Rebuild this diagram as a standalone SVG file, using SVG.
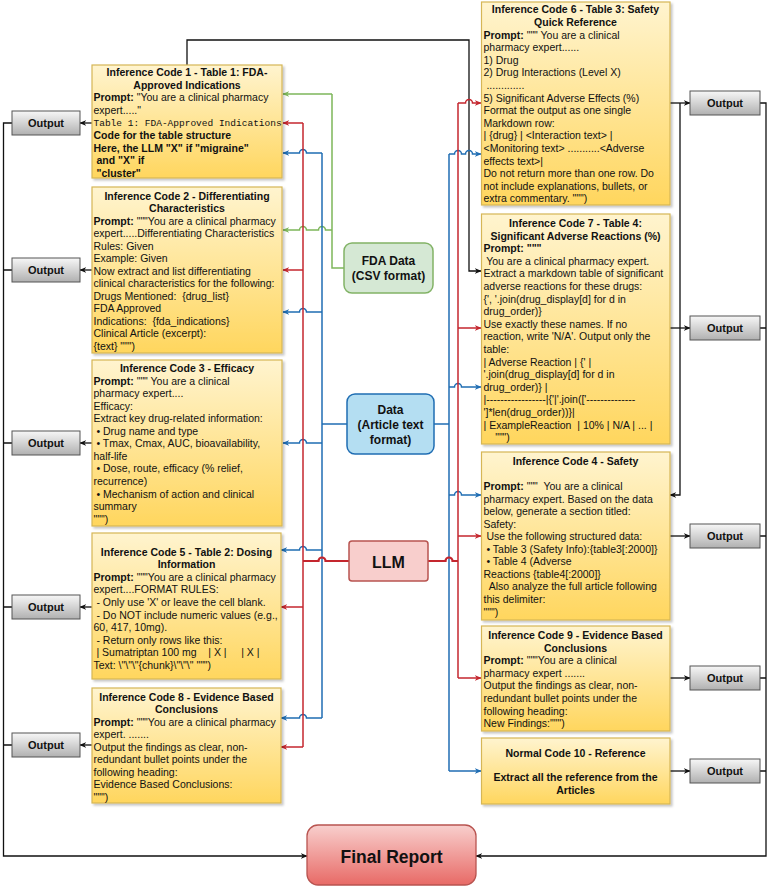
<svg xmlns="http://www.w3.org/2000/svg" width="768" height="887" viewBox="0 0 768 887">
<style>
text{font-family:"Liberation Sans",Arial,sans-serif;font-size:10.5px;fill:#111;white-space:pre}
.b{font-weight:bold}
.c{text-anchor:middle}
.mono{font-family:"Liberation Mono","Courier New",monospace;font-size:9.5px}
.ybox{fill:url(#gy);stroke:#d6b656;stroke-width:1.2}
.obox{fill:url(#gg);stroke:#555;stroke-width:1}
.otx{font-weight:bold;font-size:11px;text-anchor:middle}
.k{fill:none;stroke:#111;stroke-width:1.3}
.r{fill:none;stroke:#c4262e;stroke-width:1.5}
.u{fill:none;stroke:#1f6db3;stroke-width:1.5}
.g{fill:none;stroke:#7db65a;stroke-width:1.5}
.ka{marker-end:url(#ak)}
.ra{marker-end:url(#ar)}
.ua{marker-end:url(#au)}
.ga{marker-end:url(#ag)}
</style>
<defs>
<linearGradient id="gy" x1="0" y1="0" x2="0" y2="1"><stop offset="0" stop-color="#fff4cf"/><stop offset="1" stop-color="#ffd65e"/></linearGradient>
<linearGradient id="gg" x1="0" y1="0" x2="0" y2="1"><stop offset="0" stop-color="#f7f7f7"/><stop offset="1" stop-color="#b0b0b0"/></linearGradient>
<linearGradient id="gr" x1="0" y1="0" x2="0" y2="1"><stop offset="0" stop-color="#f8cfcd"/><stop offset="1" stop-color="#e86a66"/></linearGradient>
<filter id="sh" x="-10%" y="-10%" width="120%" height="120%"><feDropShadow dx="2" dy="2" stdDeviation="1.2" flood-color="#000" flood-opacity="0.22"/></filter>
<marker id="ak" viewBox="0 0 10 10" refX="9" refY="5" markerWidth="7" markerHeight="7" markerUnits="userSpaceOnUse" orient="auto"><path d="M0,1 L10,5 L0,9 L3,5 z" fill="#111"/></marker>
<marker id="ar" viewBox="0 0 10 10" refX="9" refY="5" markerWidth="7" markerHeight="7" markerUnits="userSpaceOnUse" orient="auto"><path d="M0,1 L10,5 L0,9 L3,5 z" fill="#c4262e"/></marker>
<marker id="au" viewBox="0 0 10 10" refX="9" refY="5" markerWidth="7" markerHeight="7" markerUnits="userSpaceOnUse" orient="auto"><path d="M0,1 L10,5 L0,9 L3,5 z" fill="#1f6db3"/></marker>
<marker id="ag" viewBox="0 0 10 10" refX="9" refY="5" markerWidth="7" markerHeight="7" markerUnits="userSpaceOnUse" orient="auto"><path d="M0,1 L10,5 L0,9 L3,5 z" fill="#7db65a"/></marker>
</defs>
<rect width="768" height="887" fill="#fff"/>

<g id="connectors">
<!-- black: code 1 to code 7 -->
<path class="k ka" d="M187,65 V40 H469 V271 H481"/>
<!-- green FDA -->
<path class="g" d="M344,268 H332 V94"/>
<path class="g ga" d="M332,94 H283"/>
<path class="g ga" d="M332,230 H325.5 A3.5,3.5 0 0 0 318.5,230 H306.5 A3.5,3.5 0 0 0 299.5,230 H283"/>
<!-- blue left -->
<path class="u" d="M347,424 H322"/>
<path class="u" d="M322,153 V718"/>
<path class="u ua" d="M322,153 H306.5 A3.5,3.5 0 0 0 299.5,153 H283"/>
<path class="u ua" d="M322,312 H306.5 A3.5,3.5 0 0 0 299.5,312 H283"/>
<path class="u ua" d="M322,443 H306.5 A3.5,3.5 0 0 0 299.5,443 H283"/>
<path class="u ua" d="M322,550 H306.5 A3.5,3.5 0 0 0 299.5,550 H281"/>
<path class="u ua" d="M322,718 H306.5 A3.5,3.5 0 0 0 299.5,718 H281"/>
<!-- red left -->
<path class="r" style="stroke-width:2.2" d="M349,561 H325.5 A3.5,3.5 0 0 0 318.5,561 H303"/>
<path class="r" d="M303,123 V747"/>
<path class="r ra" d="M303,123 H283"/>
<path class="r ra" d="M303,270 H283"/>
<path class="r ra" d="M303,607 H281"/>
<path class="r ra" d="M303,747 H281"/>
<!-- blue right -->
<path class="u" d="M434,424 H449"/>
<path class="u" d="M449,154 V771"/>
<path class="u ua" d="M449,154 H454.5 A3.5,3.5 0 0 1 461.5,154 H465.5 A3.5,3.5 0 0 1 472.5,154 H481"/>
<path class="u ua" d="M449,387 H454.5 A3.5,3.5 0 0 1 461.5,387 H481"/>
<path class="u ua" d="M449,495 H454.5 A3.5,3.5 0 0 1 461.5,495 H481"/>
<path class="u ua" d="M449,771 H481"/>
<!-- red right -->
<path class="r" style="stroke-width:2.2" d="M428,561 H445.5 A3.5,3.5 0 0 1 452.5,561 H458"/>
<path class="r" d="M458,103 V678"/>
<path class="r ra" d="M458,103 H465.5 A3.5,3.5 0 0 1 472.5,103 H481"/>
<path class="r ra" d="M458,328 H481"/>
<path class="r ra" d="M458,536 H481"/>
<path class="r ra" d="M458,678 H481"/>
<!-- outputs left -->
<path class="k ka" d="M92,123 H80"/>
<path class="k ka" d="M92,270 H80"/>
<path class="k ka" d="M92,443 H80"/>
<path class="k ka" d="M92,607 H80"/>
<path class="k ka" d="M92,745 H80"/>
<path class="k" d="M12,270 H3.5 M12,443 H3.5 M12,607 H3.5 M12,745 H3.5"/>
<path class="k ka" d="M12,123 H3.5 V856 H307"/>
<!-- outputs right -->
<path class="k ka" d="M670,103 H690"/>
<path class="k ka" d="M670,328 H690"/>
<path class="k ka" d="M670,536 H690"/>
<path class="k ka" d="M670,678 H690"/>
<path class="k ka" d="M670,771 H690"/>
<path class="k ka" d="M680,103 V495 H670"/>
<path class="k" d="M760,328 H766 M760,536 H766 M760,678 H766 M760,771 H766"/>
<path class="k ka" d="M760,103 H766 V856 H476"/>
</g>

<g id="code1">
<rect class="ybox" filter="url(#sh)" x="92" y="65" width="190" height="113"/>
<text class="b c" x="187" y="76">Inference Code 1 - Table 1: FDA-</text>
<text class="b c" x="187" y="88.6">Approved Indications</text>
<text x="93.5" y="101.2"><tspan class="b">Prompt:</tspan> "You are a clinical pharmacy</text>
<text x="93.5" y="113.8">expert....."</text>
<text class="mono" x="93.5" y="126.4">Table 1: FDA-Approved Indications</text>
<text class="b" x="93.5" y="139">Code for the table structure</text>
<text class="b" x="93.5" y="151.6">Here, the LLM "X" if "migraine"</text>
<text class="b" x="93.5" y="164.2"> and "X" if</text>
<text class="b" x="93.5" y="176.8"> "cluster"</text>
</g>

<g id="code2">
<rect class="ybox" filter="url(#sh)" x="92" y="187" width="190" height="166"/>
<text class="b c" x="187" y="199.5">Inference Code 2 - Differentiating</text>
<text class="b c" x="187" y="212">Characteristics</text>
<text x="93.5" y="224.5"><tspan class="b">Prompt:</tspan> """You are a clinical pharmacy</text>
<text x="93.5" y="237">expert.....Differentiating Characteristics</text>
<text x="93.5" y="249.5">Rules: Given</text>
<text x="93.5" y="262">Example: Given</text>
<text x="93.5" y="274.5">Now extract and list differentiating</text>
<text x="93.5" y="287">clinical characteristics for the following:</text>
<text x="93.5" y="299.5">Drugs Mentioned:  {drug_list}</text>
<text x="93.5" y="312">FDA Approved</text>
<text x="93.5" y="324.5">Indications:  {fda_indications}</text>
<text x="93.5" y="337">Clinical Article (excerpt):</text>
<text x="93.5" y="349.5">{text} """)</text>
</g>

<g id="code3">
<rect class="ybox" filter="url(#sh)" x="92" y="360" width="190" height="166"/>
<text class="b c" x="187" y="372">Inference Code 3 - Efficacy</text>
<text x="93.5" y="384.6"><tspan class="b">Prompt:</tspan> """ You are a clinical</text>
<text x="93.5" y="397.1">pharmacy expert....</text>
<text x="93.5" y="409.7">Efficacy:</text>
<text x="93.5" y="422.2">Extract key drug-related information:</text>
<text x="93.5" y="434.8"> • Drug name and type</text>
<text x="93.5" y="447.3"> • Tmax, Cmax, AUC, bioavailability,</text>
<text x="93.5" y="459.9">half-life</text>
<text x="93.5" y="472.4"> • Dose, route, efficacy (% relief,</text>
<text x="93.5" y="485">recurrence)</text>
<text x="93.5" y="497.5"> • Mechanism of action and clinical</text>
<text x="93.5" y="510">summary</text>
<text x="93.5" y="522.6">""")</text>
</g>

<g id="code5">
<rect class="ybox" filter="url(#sh)" x="92" y="533" width="189" height="146"/>
<text class="b c" x="186.5" y="555.5">Inference Code 5 - Table 2: Dosing</text>
<text class="b c" x="186.5" y="568.1">Information</text>
<text x="93.5" y="580.7"><tspan class="b">Prompt:</tspan> """You are a clinical pharmacy</text>
<text x="93.5" y="593.3">expert....FORMAT RULES:</text>
<text x="93.5" y="605.9"> - Only use 'X' or leave the cell blank.</text>
<text x="93.5" y="618.5"> - Do NOT include numeric values (e.g.,</text>
<text x="93.5" y="631.1">60, 417, 10mg).</text>
<text x="93.5" y="643.7"> - Return only rows like this:</text>
<text x="93.5" y="656.3"> | Sumatriptan 100 mg    | X |     | X |</text>
<text x="93.5" y="668.9">Text: \"\"\"{chunk}\"\"\" """)</text>
</g>

<g id="code8">
<rect class="ybox" filter="url(#sh)" x="92" y="688" width="189" height="115"/>
<text class="b c" x="186.5" y="700.5">Inference Code 8 - Evidence Based</text>
<text class="b c" x="186.5" y="713">Conclusions</text>
<text x="93.5" y="725.5"><tspan class="b">Prompt:</tspan> """You are a clinical pharmacy</text>
<text x="93.5" y="738">expert. .......</text>
<text x="93.5" y="750.5">Output the findings as clear, non-</text>
<text x="93.5" y="763">redundant bullet points under the</text>
<text x="93.5" y="775.5">following heading:</text>
<text x="93.5" y="788">Evidence Based Conclusions:</text>
<text x="93.5" y="800.5">""")</text>
</g>

<g id="code6">
<rect class="ybox" filter="url(#sh)" x="481.5" y="2" width="188.5" height="203"/>
<text class="b c" x="575.5" y="13.3">Inference Code 6 - Table 3: Safety</text>
<text class="b c" x="575.5" y="25.9">Quick Reference</text>
<text x="483.5" y="38.5"><tspan class="b">Prompt:</tspan> """ You are a clinical</text>
<text x="483.5" y="51.1">pharmacy expert......</text>
<text x="483.5" y="63.7">1) Drug</text>
<text x="483.5" y="76.3">2) Drug Interactions (Level X)</text>
<text x="483.5" y="88.9"> .............</text>
<text x="483.5" y="101.5">5) Significant Adverse Effects (%)</text>
<text x="483.5" y="114.1">Format the output as one single</text>
<text x="483.5" y="126.7">Markdown row:</text>
<text x="483.5" y="139.3">| {drug} | &lt;Interaction text&gt; |</text>
<text x="483.5" y="151.9">&lt;Monitoring text&gt; ...........&lt;Adverse</text>
<text x="483.5" y="164.5">effects text&gt;|</text>
<text x="483.5" y="177.1">Do not return more than one row. Do</text>
<text x="483.5" y="189.7">not include explanations, bullets, or</text>
<text x="483.5" y="202.3">extra commentary. """)</text>
</g>

<g id="code7">
<rect class="ybox" filter="url(#sh)" x="481.5" y="214" width="188.5" height="230"/>
<text class="b c" x="575.5" y="227">Inference Code 7 - Table 4:</text>
<text class="b c" x="575.5" y="239.6">Significant Adverse Reactions (%)</text>
<text x="483.5" y="252.2"><tspan class="b">Prompt: """</tspan></text>
<text x="483.5" y="264.8"> You are a clinical pharmacy expert.</text>
<text x="483.5" y="277.4">Extract a markdown table of significant</text>
<text x="483.5" y="290">adverse reactions for these drugs:</text>
<text x="483.5" y="302.6">{', '.join(drug_display[d] for d in</text>
<text x="483.5" y="315.2">drug_order)}</text>
<text x="483.5" y="327.8">Use exactly these names. If no</text>
<text x="483.5" y="340.4">reaction, write 'N/A'. Output only the</text>
<text x="483.5" y="353">table:</text>
<text x="483.5" y="365.6">| Adverse Reaction | {' |</text>
<text x="483.5" y="378.2">'.join(drug_display[d] for d in</text>
<text x="483.5" y="390.8">drug_order)} |</text>
<text x="483.5" y="403.4">|-----------------|{'|'.join(['--------------</text>
<text x="483.5" y="416">']*len(drug_order))}|</text>
<text x="483.5" y="428.6">| ExampleReaction  | 10% | N/A | ... |</text>
<text x="483.5" y="441.2">    """)</text>
</g>

<g id="code4">
<rect class="ybox" filter="url(#sh)" x="481.5" y="452" width="188.5" height="168"/>
<text class="b c" x="575.5" y="465">Inference Code 4 - Safety</text>
<text x="483.5" y="490"><tspan class="b">Prompt:</tspan> """  You are a clinical</text>
<text x="483.5" y="502.5">pharmacy expert. Based on the data</text>
<text x="483.5" y="515">below, generate a section titled:</text>
<text x="483.5" y="527.6">Safety:</text>
<text x="483.5" y="540.2"> Use the following structured data:</text>
<text x="483.5" y="552.7"> • Table 3 (Safety Info):{table3[:2000]}</text>
<text x="483.5" y="565.3"> • Table 4 (Adverse</text>
<text x="483.5" y="577.8">Reactions {table4[:2000]}</text>
<text x="483.5" y="590.4">  Also analyze the full article following</text>
<text x="483.5" y="603">this delimiter:</text>
<text x="483.5" y="615.5">""")</text>
</g>

<g id="code9">
<rect class="ybox" filter="url(#sh)" x="481.5" y="626" width="188.5" height="105"/>
<text class="b c" x="575.5" y="639">Inference Code 9 - Evidence Based</text>
<text class="b c" x="575.5" y="651.6">Conclusions</text>
<text x="483.5" y="664.2"><tspan class="b">Prompt:</tspan> """You are a clinical</text>
<text x="483.5" y="676.8">pharmacy expert .......</text>
<text x="483.5" y="689.4">Output the findings as clear, non-</text>
<text x="483.5" y="702">redundant bullet points under the</text>
<text x="483.5" y="714.6">following heading:</text>
<text x="483.5" y="727.2">New Findings:""")</text>
</g>

<g id="code10">
<rect class="ybox" filter="url(#sh)" x="481.5" y="738" width="188.5" height="66"/>
<text class="b c" x="575.5" y="756.5">Normal Code 10 - Reference</text>
<text class="b c" x="575.5" y="781">Extract all the reference from the</text>
<text class="b c" x="575.5" y="794">Articles</text>
</g>

<g id="fda">
<rect x="344" y="243" width="89" height="50" rx="8" fill="#d5e8d4" stroke="#82b366" stroke-width="1.5"/>
<text class="b c" x="388.5" y="265" style="font-size:12px">FDA Data</text>
<text class="b c" x="388.5" y="280" style="font-size:12px">(CSV format)</text>
</g>

<g id="data">
<rect x="347" y="394" width="87" height="60" rx="8" fill="#b4def2" stroke="#1f6db3" stroke-width="1.5"/>
<text class="b c" x="390.5" y="414" style="font-size:12px">Data</text>
<text class="b c" x="390.5" y="429" style="font-size:12px">(Article text</text>
<text class="b c" x="390.5" y="444" style="font-size:12px">format)</text>
</g>

<g id="llm">
<rect x="349" y="541" width="79" height="40" rx="3" fill="#f8cecc" stroke="#b85450" stroke-width="1.5"/>
<text class="b c" x="388.5" y="567.5" style="font-size:16px">LLM</text>
</g>

<g id="final">
<rect x="307" y="825" width="169" height="60" rx="11" fill="url(#gr)" stroke="#b85450" stroke-width="1.3"/>
<text class="b c" x="391.5" y="862.5" style="font-size:17.5px">Final Report</text>
</g>

<g id="out-l1"><rect class="obox" x="12" y="111" width="68" height="24"/><text class="otx" x="46" y="127">Output</text></g>
<g id="out-l2"><rect class="obox" x="12" y="258" width="68" height="24"/><text class="otx" x="46" y="274">Output</text></g>
<g id="out-l3"><rect class="obox" x="12" y="431" width="68" height="24"/><text class="otx" x="46" y="447">Output</text></g>
<g id="out-l4"><rect class="obox" x="12" y="595" width="68" height="24"/><text class="otx" x="46" y="611">Output</text></g>
<g id="out-l5"><rect class="obox" x="12" y="733" width="68" height="24"/><text class="otx" x="46" y="749">Output</text></g>
<g id="out-r1"><rect class="obox" x="690" y="91" width="70" height="24"/><text class="otx" x="725" y="107">Output</text></g>
<g id="out-r2"><rect class="obox" x="690" y="316" width="70" height="24"/><text class="otx" x="725" y="332">Output</text></g>
<g id="out-r3"><rect class="obox" x="690" y="524" width="70" height="24"/><text class="otx" x="725" y="540">Output</text></g>
<g id="out-r4"><rect class="obox" x="690" y="666" width="70" height="24"/><text class="otx" x="725" y="682">Output</text></g>
<g id="out-r5"><rect class="obox" x="690" y="759" width="70" height="24"/><text class="otx" x="725" y="775">Output</text></g>
</svg>
